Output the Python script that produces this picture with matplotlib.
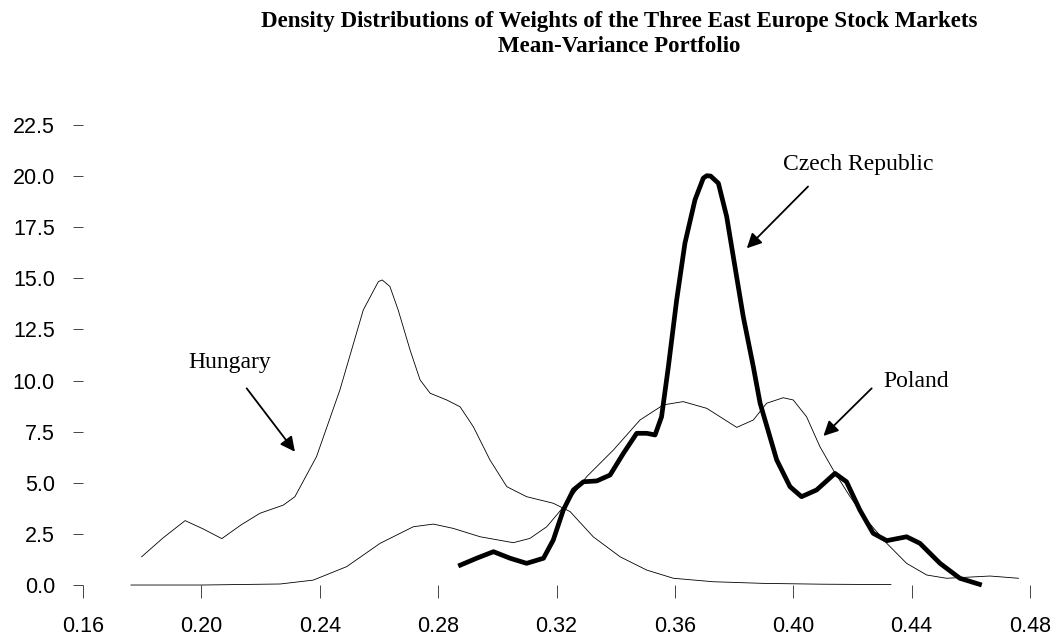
import matplotlib
matplotlib.use("Agg")
from matplotlib import pyplot as plt

# Values
hungary_x = [0.1798, 0.1870, 0.1945, 0.2005, 0.2069, 0.2135, 0.2198, 0.2277, 0.2316, 0.2389,
             0.2468, 0.2547, 0.2598, 0.2611, 0.2637, 0.2665, 0.2705, 0.2739, 0.2773, 0.2829,
             0.2874, 0.2919, 0.2975, 0.3032, 0.3099, 0.3189, 0.3246, 0.3324, 0.3415, 0.3505,
             0.3595, 0.3730, 0.3900, 0.4100, 0.4330]
hungary_y = [1.38, 2.30, 3.15, 2.75, 2.27, 2.95, 3.51, 3.91, 4.32, 6.28,
             9.54, 13.45, 14.84, 14.92, 14.60, 13.45, 11.50, 10.03, 9.38, 9.05,
             8.72, 7.74, 6.12, 4.81, 4.32, 4.00, 3.59, 2.36, 1.38, 0.73,
             0.33, 0.16, 0.08, 0.04, 0.02]

poland_x = [0.1762, 0.2000, 0.2266, 0.2378, 0.2491, 0.2604, 0.2716, 0.2784, 0.2851, 0.2942,
            0.3054, 0.3110, 0.3167, 0.3234, 0.3302, 0.3392, 0.3482, 0.3561, 0.3628, 0.3708,
            0.3809, 0.3865, 0.3910, 0.3966, 0.4000, 0.4045, 0.4090, 0.4135, 0.4192, 0.4248,
            0.4316, 0.4383, 0.4451, 0.4518, 0.4586, 0.4665, 0.4761]
poland_y = [0.0, 0.0, 0.05, 0.24, 0.90, 2.04, 2.85, 2.98, 2.77, 2.36,
            2.07, 2.28, 2.85, 4.00, 5.30, 6.60, 8.07, 8.81, 8.97, 8.64,
            7.71, 8.07, 8.89, 9.16, 9.05, 8.23, 6.77, 5.63, 4.32, 3.18,
            2.04, 1.06, 0.49, 0.33, 0.38, 0.44, 0.33]

czech_x = [0.2868, 0.2930, 0.2987, 0.3043, 0.3099, 0.3156, 0.3189, 0.3223, 0.3257, 0.3291,
           0.3336, 0.3381, 0.3426, 0.3471, 0.3505, 0.3533, 0.3555, 0.3578, 0.3606, 0.3634,
           0.3668, 0.3696, 0.3708, 0.3721, 0.3747, 0.3775, 0.3803, 0.3831, 0.3865, 0.3888,
           0.3944, 0.3989, 0.4028, 0.4079, 0.4141, 0.4180, 0.4225, 0.4270, 0.4316, 0.4383,
           0.4428, 0.4496, 0.4563, 0.4637]
czech_y = [0.93, 1.31, 1.63, 1.31, 1.06, 1.31, 2.20, 3.67, 4.65, 5.05,
           5.09, 5.38, 6.44, 7.42, 7.42, 7.34, 8.23, 10.68, 13.94, 16.72,
           18.84, 19.90, 20.02, 20.00, 19.65, 18.02, 15.57, 13.13, 10.68, 8.89,
           6.12, 4.81, 4.32, 4.65, 5.46, 5.05, 3.67, 2.53, 2.17, 2.36,
           2.04, 1.06, 0.33, 0.0]

x_ticks = [0.16, 0.20, 0.24, 0.28, 0.32, 0.36, 0.40, 0.44, 0.48]
y_ticks = [0.0, 2.5, 5.0, 7.5, 10.0, 12.5, 15.0, 17.5, 20.0, 22.5]

# label text, label position, arrow start, arrow tip
labels = [
    ("Hungary", (0.2097, 10.86), (0.2153, 9.62), (0.2316, 6.52)),
    ("Poland", (0.4415, 9.93), (0.4265, 9.62), (0.4102, 7.29)),
    ("Czech Republic", (0.4219, 20.55), (0.4050, 19.49), (0.3843, 16.47)),
]

fig = plt.figure(figsize=(10.55, 6.37), dpi=100)
ax = fig.add_axes([0.0787, 0.0816, 0.8976, 0.7222])

ax.plot(hungary_x, hungary_y, color="black", lw=0.6, clip_on=False)
ax.plot(poland_x, poland_y, color="black", lw=0.6, clip_on=False)
ax.plot(czech_x, czech_y, color="black", lw=3.4, clip_on=False,
        solid_capstyle="butt", solid_joinstyle="round")

ax.set_xlim(0.16, 0.48)
ax.set_ylim(0, 22.5)
for s in ax.spines.values():
    s.set_visible(False)

ax.set_xticks(x_ticks)
ax.set_xticklabels([f"{v:.2f}" for v in x_ticks])
ax.set_yticks(y_ticks)
ax.set_yticklabels([f"{v:.1f}" for v in y_ticks])
ax.tick_params(axis="x", length=9.4, width=0.7, color="#444444", pad=13, labelsize=15.5)
ax.tick_params(axis="y", length=7.2, width=0.7, color="#444444", pad=13, labelsize=15.5)
for lab in ax.get_xticklabels() + ax.get_yticklabels():
    lab.set_family("Liberation Sans")

for text, pos, start, tip in labels:
    ax.text(pos[0], pos[1], text, ha="center", va="center",
            family="Liberation Serif", fontsize=17)
    ax.annotate("", xy=tip, xytext=start,
                arrowprops=dict(arrowstyle="-|>", color="black", lw=1.3,
                                mutation_scale=22, shrinkA=0, shrinkB=0))

title_font = dict(ha="center", va="center", family="Liberation Serif",
                  fontweight="bold", fontsize=16.5)
fig.text(619 / 1055, 1 - 22 / 637,
         "Density Distributions of Weights of the Three East Europe Stock Markets", **title_font)
fig.text(619 / 1055, 1 - 47 / 637, "Mean-Variance Portfolio", **title_font)

fig.savefig("out.png", dpi=100)
